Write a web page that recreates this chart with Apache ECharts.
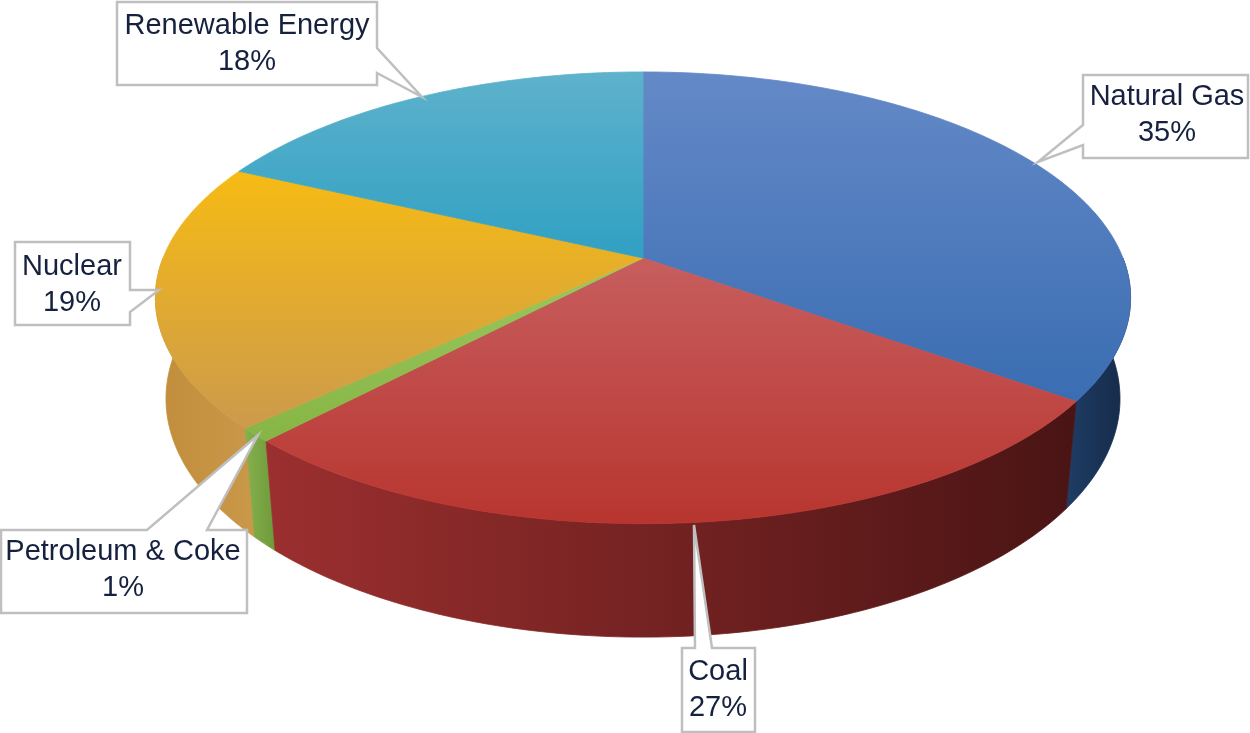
<!DOCTYPE html>
<html>
<head>
<meta charset="utf-8">
<script src="https://cdn.jsdelivr.net/npm/echarts@6/dist/echarts.min.js"></script>
<style>
  html, body { margin: 0; padding: 0; background: #fff; }
  #chart { width: 1250px; height: 733px; }
</style>
</head>
<body>
<div id="chart"></div>
<script>
// data
const categories = ["Natural Gas", "Coal", "Petroleum & Coke", "Nuclear", "Renewable Energy"];
const shares = [35, 27, 1, 19, 18];

// colours per slice: top face (light, dark), side wall (left, right)
const topColors = [
  ["#6489c7", "#3a6db2"],
  ["#c75e5e", "#b8352f"],
  ["#9cc85e", "#86b545"],
  ["#f6bb14", "#cc9a4c"],
  ["#5eb2cc", "#30a0c3"]
];
const sideColors = [
  ["#1f3d66", "#142946"],
  ["#9c2f2f", "#4a1414"],
  ["#86b04c", "#6f9a3c"],
  ["#c18d3c", "#c99848"],
  ["#2c8aa6", "#2c8aa6"]
];

// callout layout: box [x, y, w, h], pointer polygon points, text centre
const callouts = [
  { box: [1083, 75, 165, 83], ptr: [[1083, 125], [1038, 162], [1083, 145]], side: "left", text: [1167, 115] },
  { box: [682, 648, 73, 84], ptr: [[695, 648], [694, 525], [712, 648]], side: "top", text: [718, 690] },
  { box: [1, 530, 246, 83], ptr: [[147, 530], [258, 435], [207, 530]], side: "top", text: [123, 570] },
  { box: [15, 242, 115, 83], ptr: [[130, 290], [159, 290], [130, 312]], side: "right", text: [72, 285] },
  { box: [117, 2, 260, 83], ptr: [[377, 48], [422, 97], [377, 73]], side: "right", text: [247, 44] }
];

// perspective projection of the disc
const CX = 643, CY = 258, F = 2424, R = 0.198, H = 0.0471;
const SA = 0.456, CA = Math.sqrt(1 - SA * SA);
const total = shares.reduce((s, v) => s + v, 0);

function project(deg, r, z) {
  const t = deg * Math.PI / 180;
  const x = r * Math.sin(t), y = r * Math.cos(t);
  const depth = 1 + y * CA - z * SA;
  const up = y * SA + z * CA;
  return [CX + F * x / depth, CY - F * up / depth];
}

function arc(a, b, z) {
  const pts = [];
  const n = Math.max(2, Math.ceil(Math.abs(b - a)));
  for (let k = 0; k <= n; k++) pts.push(project(a + (b - a) * k / n, R, z));
  return pts;
}

let acc = 0;
const sliceData = shares.map((v, i) => {
  const item = [acc, acc + v, i];
  acc += v;
  return item;
});

function linear(x, y, x2, y2, c) {
  return { type: "linear", x: x, y: y, x2: x2, y2: y2, colorStops: [{ offset: 0, color: c[0] }, { offset: 1, color: c[1] }] };
}

function renderWall(params, api) {
  const a = Math.max(api.value(0) / total * 360, 90);
  const b = Math.min(api.value(1) / total * 360, 270);
  const i = api.value(2);
  if (b <= a) return null;
  const pts = arc(a, b, 0).concat(arc(b, a, -H));
  const mid = (a + b) / 2;
  const fill = linear(0, 0, 1, 0, sideColors[i]);
  return {
    type: "polygon",
    z2: Math.round(180 - Math.abs(mid - 180)),
    shape: { points: pts },
    style: { fill: fill, stroke: fill, lineWidth: 0.8 }
  };
}

function renderTop(params, api) {
  const a = api.value(0) / total * 360;
  const b = api.value(1) / total * 360;
  const i = api.value(2);
  const pts = [project(0, 0, 0)].concat(arc(a, b, 0));
  const fill = linear(0, 0, 0, 1, topColors[i]);
  return {
    type: "polygon",
    shape: { points: pts },
    style: { fill: fill, stroke: fill, lineWidth: 0.8 }
  };
}

function renderCallout(params, api) {
  const i = api.value(2);
  const share = api.value(1) - api.value(0);
  const c = callouts[i];
  const [x, y, w, h] = c.box;
  let pts;
  if (c.side === "left") {
    pts = [[x, y], [x + w, y], [x + w, y + h], [x, y + h], c.ptr[2], c.ptr[1], c.ptr[0]];
  } else if (c.side === "right") {
    pts = [[x, y], [x + w, y], c.ptr[0], c.ptr[1], c.ptr[2], [x + w, y + h], [x, y + h]];
  } else {
    pts = [[x, y], c.ptr[0], c.ptr[1], c.ptr[2], [x + w, y], [x + w, y + h], [x, y + h]];
  }
  return {
    type: "group",
    children: [
      {
        type: "polygon",
        shape: { points: pts },
        style: { fill: "#ffffff", stroke: "#bfbfbf", lineWidth: 2.5, lineJoin: "miter" }
      },
      {
        type: "text",
        style: {
          text: categories[i] + "\n" + Math.round(share / total * 100) + "%",
          x: c.text[0],
          y: c.text[1],
          align: "center",
          verticalAlign: "middle",
          font: '29px "Liberation Sans", Arial, sans-serif',
          lineHeight: 36,
          fill: "#15213f"
        }
      }
    ]
  };
}

const chart = echarts.init(document.getElementById("chart"));
chart.setOption({
  animation: false,
  backgroundColor: "#ffffff",
  series: [
    { type: "custom", coordinateSystem: "none", z: 1, renderItem: renderWall, data: sliceData, silent: true },
    { type: "custom", coordinateSystem: "none", z: 2, renderItem: renderTop, data: sliceData, silent: true },
    { type: "custom", coordinateSystem: "none", z: 3, renderItem: renderCallout, data: sliceData, silent: true }
  ]
});
</script>
</body>
</html>
